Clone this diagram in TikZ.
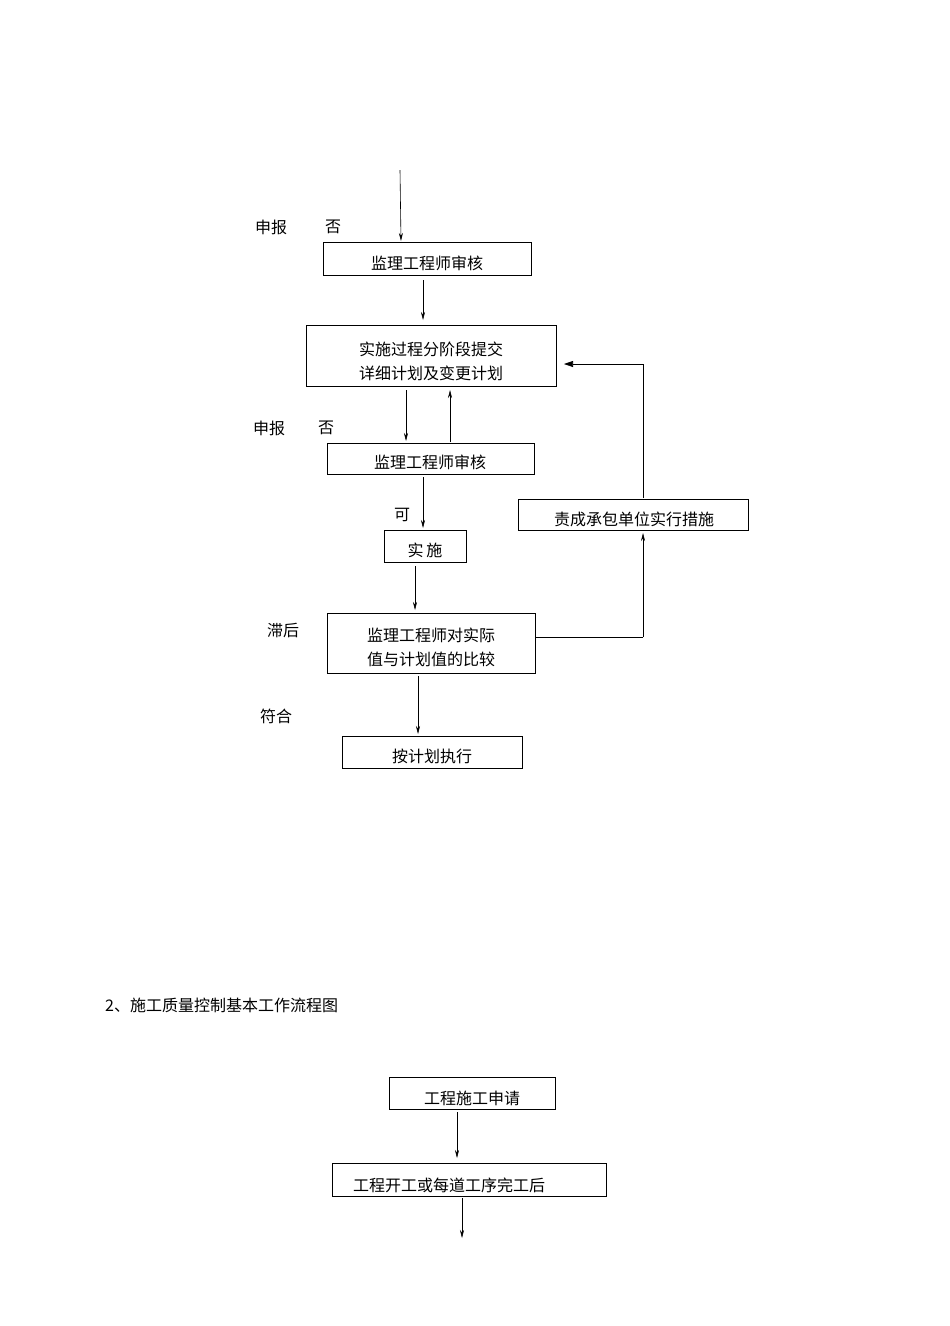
\documentclass[tikz,border=0pt]{standalone}
\usepackage{fontspec}
\setmainfont{Noto Sans CJK SC}
\usetikzlibrary{arrows.meta}
\begin{document}
\begin{tikzpicture}[x=1pt,y=-1pt,
  bx/.style={draw,thick,inner sep=0pt},
  lb/.style={font=\fontsize{16}{20}\selectfont,inner sep=0pt},
  ar/.style={-{Stealth[length=8pt,width=4pt]},semithick},
  ln/.style={semithick}]
\useasboundingbox (0,0) rectangle (950,1326);
\draw[bx] (323,242) rectangle (531,275);
\node[lb] (b1) at (427,263) {监理工程师审核};
\draw[bx] (306,325) rectangle (556,386);
\node[lb,align=center] (b2) at (431,361) {实施过程分阶段提交\\[4pt]详细计划及变更计划};
\draw[bx] (327,443) rectangle (534,474);
\node[lb] (b3) at (430,462) {监理工程师审核};
\draw[bx] (384,530) rectangle (466,562);
\node[lb] (b4) at (425,550) {实\,施};
\draw[bx] (327,613) rectangle (535,673);
\node[lb,align=center] (b5) at (431,647) {监理工程师对实际\\[4pt]值与计划值的比较};
\draw[bx] (342,736) rectangle (522,768);
\node[lb] (b6) at (432,756) {按计划执行};
\draw[bx] (518,499) rectangle (748,530);
\node[lb] (b7) at (634,519) {责成承包单位实行措施};
\draw[bx] (389,1077) rectangle (555,1109);
\node[lb] (b8) at (472,1098) {工程施工申请};
\draw[bx] (332,1163) rectangle (606,1196);
\node[lb] (b9) at (449,1185) {工程开工或每道工序完工后};
\node[lb] at (271,227) {申报};
\node[lb] at (333,227) {否};
\node[lb] at (269,428) {申报};
\node[lb] at (326,428) {否};
\node[lb] at (402,515) {可};
\node[lb] at (283,630) {滞后};
\node[lb] at (276,716) {符合};
\node[lb,anchor=west] at (105,1005) {2、施工质量控制基本工作流程图};
\coordinate (t0) at (400,170); \coordinate (t1) at (401,241);
\draw[ar] (t0) -- (t1);
\draw[ar] (423,280) -- (423,320);
\draw[ar] (406,390) -- (406,441);
\draw[ar] (450,442) -- (450,390);
\draw[ar] (423,477) -- (423,528);
\draw[ar] (415,566) -- (415,610);
\draw[ar] (418,676) -- (418,734);
\coordinate (r1) at (643,637);
\draw[ln] (535,637) -- (r1);
\draw[ar] (643,637) -- (643,533);
\draw[ln] (643,498) -- (643,364);
\draw[-{Triangle[length=9pt,width=6pt]},semithick] (643,364) -- (564,364);
\draw[ar] (457,1112) -- (457,1158);
\draw[ar] (462,1198) -- (462,1238);
\end{tikzpicture}
\end{document}
